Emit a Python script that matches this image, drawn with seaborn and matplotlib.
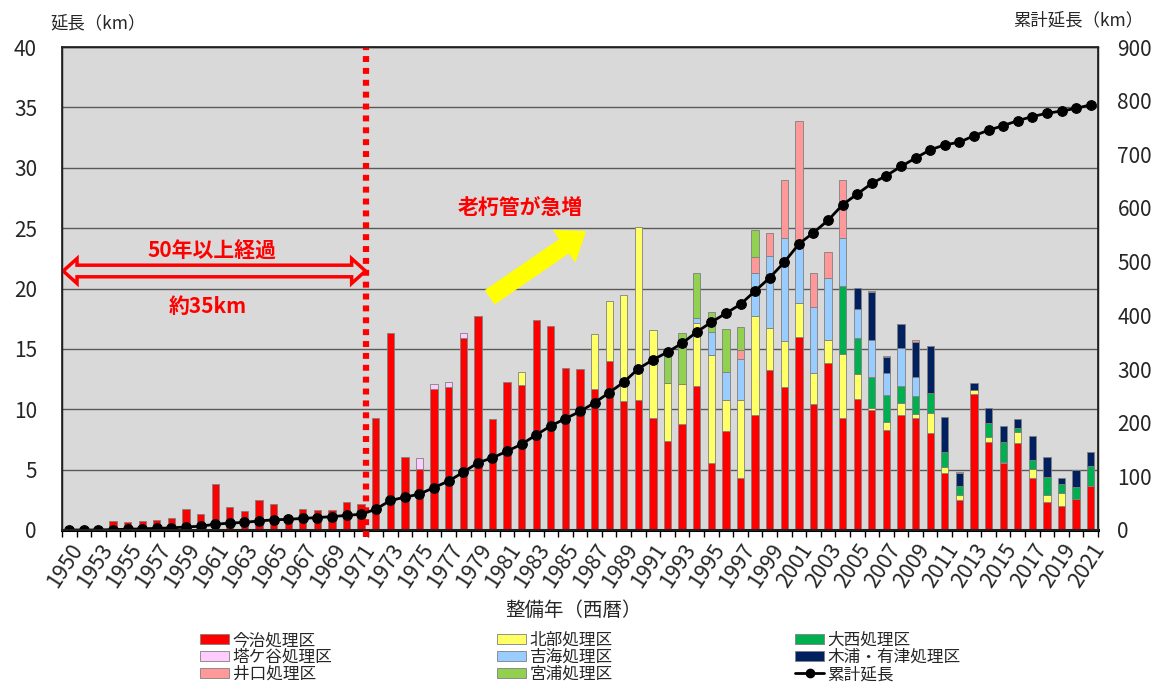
import numpy as np
import pandas as pd
import seaborn as sns
import matplotlib.pyplot as plt
from matplotlib.patches import Patch, Polygon
from matplotlib.lines import Line2D

# 整備年（1951年のデータなし）
years = ["1950", "1952"] + [str(y) for y in range(1953, 2022)]

# 処理区ごとの延長 km
imabari = [0, 0, 0, 0.77, 0.63, 0.75, 0.8, 0.99, 1.74, 1.35,
           3.81, 1.93, 1.57, 2.48, 2.15, 0.9, 1.74, 1.62, 1.66, 2.32,
           2.15, 9.25, 16.34, 6.02, 5.02, 11.68, 11.87, 15.93, 17.7, 9.22,
           12.23, 11.98, 17.42, 16.87, 13.39, 13.36, 11.66, 14.0, 10.68, 10.74,
           9.3, 7.37, 8.8, 11.9, 5.55, 8.2, 4.28, 9.52, 13.22, 11.84,
           16.01, 10.41, 13.8, 9.25, 10.82, 9.94, 8.28, 9.52, 9.25, 8.06,
           4.72, 2.51, 11.26, 7.31, 5.57, 7.18, 4.31, 2.29, 2.01, 2.59, 3.64]
tougatani = [0]*24 + [0.97, 0.41, 0.39, 0.38] + [0]*43
hokubu = [0]*31 + [1.08, 0, 0, 0, 0, 4.54, 4.96, 8.78, 14.33,
                   7.24, 4.78, 3.29, 5.27, 8.92, 2.54, 6.49, 8.18, 3.48, 3.81,
                   2.76, 2.56, 1.91, 5.3, 2.13, 0.14, 0.69, 0.97, 0.33, 1.6,
                   0.5, 0.36, 0.33, 0.37, 0.1, 0.96, 0.72, 0.58, 1.03, 0, 0]
oonishi = [0]*53 + [5.63, 2.92, 2.62, 2.23, 1.43, 1.49, 1.66, 1.21, 0.75, 0,
                    1.18, 1.59, 0.33, 0.74, 1.54, 0.79, 0.95, 1.69]
yoshiumi = [0]*43 + [0.36, 1.9, 2.32, 3.36, 3.61, 6.02, 8.5, 4.92, 5.47, 5.13,
                     3.97, 2.4, 3.01, 1.83, 3.12, 1.57] + [0]*12
kiura = [0]*54 + [1.77, 3.98, 1.27, 1.99, 2.96, 3.92, 2.93, 1.08, 0.61, 1.27,
                  1.38, 0.7, 1.99, 1.61, 0.45, 1.45, 1.13]
iguchi = [0]*46 + [0.77, 1.32, 1.85, 4.84, 10.16, 2.82, 2.16, 4.84, 0, 0.08,
                   0.14, 0, 0.13, 0, 0, 0.1] + [0]*9
miyaura = [0]*41 + [2.34, 4.2, 3.73, 1.66, 3.56, 1.91, 2.21] + [0]*23

# 累計延長 km
cumulative = [0, 0, 0, 0.8, 1.4, 2.2, 3.0, 3.9, 5.7, 7.0,
              10.8, 12.8, 14.3, 16.8, 19.0, 19.9, 21.6, 23.2, 24.9, 27.2,
              29.4, 38.6, 55.0, 61.0, 67.0, 79.1, 91.3, 107.6, 125.3, 134.5,
              146.8, 159.8, 177.3, 194.1, 207.5, 220.9, 237.1, 256.0, 275.5, 300.6,
              317.1, 331.6, 347.9, 369.1, 387.2, 403.8, 420.6, 445.4, 470.0, 499.0,
              532.9, 554.1, 577.1, 606.1, 626.1, 645.9, 660.4, 677.4, 693.1, 708.4,
              717.7, 722.5, 734.7, 744.9, 753.5, 762.7, 770.4, 776.5, 780.7, 785.7, 792.2]

layers = [("今治処理区", imabari, "#ff0000"),
          ("塔ケ谷処理区", tougatani, "#ffccff"),
          ("北部処理区", hokubu, "#ffff66"),
          ("大西処理区", oonishi, "#00b050"),
          ("吉海処理区", yoshiumi, "#99ccff"),
          ("木浦・有津処理区", kiura, "#002060"),
          ("井口処理区", iguchi, "#ff9999"),
          ("宮浦処理区", miyaura, "#92d050")]

sns.set_theme(style="white")
plt.rcParams["font.family"] = ["Noto Sans CJK JP", "DejaVu Sans"]

fig = plt.figure(figsize=(11.69, 6.84), dpi=100)
ax = fig.add_axes([62/1169, 154/684, 1036/1169, 483/684])
ax.set_facecolor("#d9d9d9")
ax.set_axisbelow(True)

bottom = np.zeros(len(years))
for name, vals, col in layers:
    vals = np.array(vals, dtype=float)
    m = vals > 0
    sns.barplot(x=[y for y, k in zip(years, m) if k], y=vals[m], order=years,
                bottom=bottom[m], color=col, saturation=1, width=0.5,
                edgecolor="#808080", linewidth=0.6, errorbar=None, ax=ax)
    bottom = bottom + vals

ax.set_xlim(-0.5, len(years) - 0.5)
ax.set_ylim(0, 40)
ax.set_yticks(range(0, 41, 5))
ax.yaxis.grid(True, color="#5a5a5a", lw=1)
ax.set_xlabel("")
ax.set_ylabel("")
ax.set_xticks(range(0, len(years), 2))
ax.set_xticklabels(years[::2], rotation=57, ha="right", rotation_mode="anchor", fontsize=15.5)
ax.set_xticks(np.arange(-0.5, len(years), 1), minor=True)
ax.tick_params(axis="x", which="major", length=0, pad=7)
ax.tick_params(axis="x", which="minor", bottom=True, length=5, width=1, color="black")
ax.tick_params(axis="y", length=0, pad=18, labelsize=15)
for s in ax.spines.values():
    s.set_color("black")
    s.set_linewidth(1)
ax.spines["bottom"].set_linewidth(2.2)

# 累計延長
ax2 = ax.twinx()
sns.lineplot(x=np.arange(len(years)), y=cumulative, ax=ax2, color="black", lw=2,
             marker="o", markersize=7, markeredgecolor="black")
ax2.set_ylim(0, 900)
ax2.set_yticks(range(0, 901, 100))
ax2.tick_params(axis="y", length=0, pad=14, labelsize=15)
ax2.set_ylabel("")
ax2.set_xlim(-0.5, len(years) - 0.5)

# 50年経過ライン
ax.axvline(20.33, ymin=-0.015, ymax=1, color="red", lw=4.5,
           linestyle=(0, (0.95, 0.95)), clip_on=False, zorder=5)
x0, x1, yc = -0.42, 20.3, 21.45
hl, hh, sh = 0.95, 1.03, 0.48
arrow = Polygon([(x0, yc), (x0 + hl, yc + hh), (x0 + hl, yc + sh), (x1 - hl, yc + sh),
                 (x1 - hl, yc + hh), (x1, yc), (x1 - hl, yc - hh), (x1 - hl, yc - sh),
                 (x0 + hl, yc - sh), (x0 + hl, yc - hh)], closed=True,
                facecolor="#d9d9d9", edgecolor="red", lw=2.5, zorder=4)
ax.add_patch(arrow)
ax.text(9.8, 23.1, "50年以上経過", color="red", fontsize=15, fontweight="bold",
        ha="center", va="center", zorder=6)
ax.text(9.5, 18.5, "約35km", color="red", fontsize=15, fontweight="bold",
        ha="center", va="center", zorder=6)

ax.annotate("", xy=(35.35, 24.7), xytext=(28.85, 19.3),
            arrowprops=dict(arrowstyle="simple,head_width=2.7,head_length=1.8,tail_width=1.15",
                            color="#ffff00", mutation_scale=10, shrinkA=0, shrinkB=0),
            zorder=6)
ax.text(30.9, 26.75, "老朽管が急増", color="red", fontsize=15, fontweight="bold",
        ha="center", va="center", zorder=6)

fig.text(50/1169, 1 - 23/684, "延長（km）", fontsize=12.5, ha="left", va="center")
fig.text(1013/1169, 1 - 20/684, "累計延長（km）", fontsize=12.5, ha="left", va="center")
fig.text(573/1169, 1 - 610/684, "整備年（西暦）", fontsize=14, ha="center", va="center")

# 凡例（3列）
handles = [Patch(facecolor=c, edgecolor="#808080", lw=0.6) for _, _, c in layers]
handles.append(Line2D([0], [0], color="black", lw=2, marker="o", markersize=6))
names = [n for n, _, _ in layers] + ["累計延長"]
columns = [([0, 1, 6], 200), ([2, 4, 7], 497), ([3, 5, 8], 795)]
for idx, xpix in columns:
    fig.legend([handles[i] for i in idx], [names[i] for i in idx], loc="upper left",
               bbox_to_anchor=(xpix/1169, 1 - 632/684), frameon=False, fontsize=12,
               handlelength=1.75, handleheight=0.6, labelspacing=0.0,
               handletextpad=0.2, borderpad=0, borderaxespad=0)

fig.savefig("out.png", dpi=100)
